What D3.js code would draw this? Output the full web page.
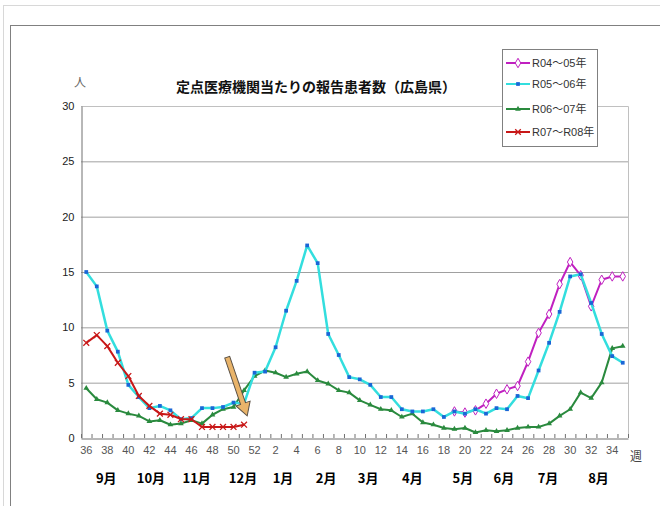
<!DOCTYPE html>
<html>
<head>
<meta charset="utf-8">
<script src="https://cdn.jsdelivr.net/npm/d3@7"></script>
<style>
  body { margin: 0; background: #fff; }
  svg { display: block; font-family: "Liberation Sans", Arial, "Noto Sans CJK JP", sans-serif; }
</style>
</head>
<body>
<div id="chart"></div>
<script>
// weeks 36..52, then 1..35
const weeks = d3.range(36, 53).concat(d3.range(1, 36)).map(String);

const r04 = [
  null, null, null, null, null, null, null, null, null, null, null, null, null, null, null, null, null,
  null, null, null, null, null, null, null, null, null, null, null, null, null, null, null, null, null, null,
  2.4, 2.3, 2.5, 3.1, 4.0, 4.4, 4.7, 6.9, 9.5, 11.2, 13.9, 15.9, 14.7, 11.9, 14.3, 14.6, 14.6
];
const r05 = [
  15.0, 13.7, 9.7, 7.8, 4.8, 3.7, 2.7, 2.9, 2.5, 1.7, 1.8, 2.7, 2.7, 2.8, 3.2, 3.1, 5.9,
  6.0, 8.2, 11.5, 14.2, 17.4, 15.8, 9.4, 7.5, 5.5, 5.3, 4.8, 3.7, 3.7, 2.6, 2.4, 2.4, 2.6, 1.9,
  2.4, 2.2, 2.6, 2.2, 2.7, 2.6, 3.8, 3.6, 6.1, 8.6, 11.4, 14.6, 14.8, 12.2, 9.4, 7.4, 6.8
];
const r06 = [
  4.5, 3.5, 3.2, 2.5, 2.2, 2.0, 1.5, 1.6, 1.2, 1.3, 1.6, 1.3, 2.1, 2.6, 2.8, 4.3, 5.6,
  6.1, 5.9, 5.5, 5.8, 6.0, 5.2, 4.9, 4.3, 4.1, 3.4, 3.0, 2.6, 2.5, 1.9, 2.2, 1.4, 1.2, 0.9,
  0.8, 0.9, 0.5, 0.7, 0.6, 0.7, 0.9, 1.0, 1.0, 1.3, 2.0, 2.6, 4.1, 3.6, 5.0, 8.1, 8.3
];
const r07 = [
  8.6, 9.3, 8.3, 6.8, 5.6, 3.8, 2.9, 2.2, 2.1, 1.7, 1.7, 1.0, 1.0, 1.0, 1.0, 1.2, null,
  null, null, null, null, null, null, null, null, null, null, null, null, null, null, null, null, null, null,
  null, null, null, null, null, null, null, null, null, null, null, null, null, null, null, null, null
];

const seriesNames = ["R04～05年", "R05～06年", "R06～07年", "R07～R08年"];
const yTicks = [0, 5, 10, 15, 20, 25, 30];
const months = [
  { label: "9月", at: 37.9 }, { label: "10月", at: 42.15 }, { label: "11月", at: 46.5 },
  { label: "12月", at: 50.9 }, { label: "1月", at: 2.7 }, { label: "2月", at: 6.8 },
  { label: "3月", at: 10.8 }, { label: "4月", at: 15.0 }, { label: "5月", at: 19.8 },
  { label: "6月", at: 23.7 }, { label: "7月", at: 27.9 }, { label: "8月", at: 32.7 }
];

const width = 660;
const height = 506;
const marginLeft = 81;
const plotRight = 628;
const plotTop = 106;
const plotBottom = 438;

const svg = d3.select("#chart")
  .append("svg")
  .attr("width", width)
  .attr("height", height)
  .attr("viewBox", [0, 0, width, height]);

// outer frames
svg.append("rect")
  .attr("x", 3.5).attr("y", 5.5).attr("width", 700).attr("height", 600)
  .attr("fill", "none").attr("stroke", "#d8d8d8");
svg.append("rect")
  .attr("x", 10.5).attr("y", 25.5).attr("width", 700).attr("height", 600)
  .attr("fill", "none").attr("stroke", "#808080");

const x = d3.scaleBand()
  .domain(weeks)
  .range([marginLeft, plotRight]);

const y = d3.scaleLinear()
  .domain([0, 30])
  .range([plotBottom, plotTop]);

const cx = (i) => x(weeks[i]) + x.bandwidth() / 2;
// position from a fractional week index (for month labels and the arrow)
const xf = (i) => x.range()[0] + x.step() * (i + 0.5);
const weekIndex = (w) => weeks.indexOf(String(w));

// gridlines
svg.append("g")
  .selectAll("line")
  .data(yTicks.filter(d => d > 0 && d < 30))
  .join("line")
  .attr("x1", marginLeft).attr("x2", plotRight)
  .attr("y1", d => y(d) + 0.5).attr("y2", d => y(d) + 0.5)
  .attr("stroke", "#a0a0a0");

// plot border (top/right light)
svg.append("path")
  .attr("d", `M${marginLeft},${plotTop + 0.5}H${plotRight + 0.5}V${plotBottom}`)
  .attr("fill", "none")
  .attr("stroke", "#c0c0c0");

// y axis
svg.append("g")
  .attr("transform", `translate(${marginLeft + 0.5},0)`)
  .call(d3.axisLeft(y).tickValues(yTicks).tickSize(0).tickPadding(7))
  .call(g => g.select(".domain").attr("stroke", "#707070"))
  .call(g => g.selectAll("text").attr("font-size", 11).attr("fill", "#222"));

// x axis
svg.append("g")
  .attr("transform", `translate(0,${plotBottom + 0.5})`)
  .call(d3.axisBottom(x)
    .tickValues(weeks.filter((d, i) => i % 2 === 0))
    .tickSize(0).tickPadding(8))
  .call(g => g.select(".domain").attr("stroke", "#707070"))
  .call(g => g.selectAll("text").attr("font-size", 11).attr("fill", "#555"));

// small tick marks between categories, pointing up
svg.append("g")
  .selectAll("line")
  .data(d3.range(weeks.length + 1))
  .join("line")
  .attr("x1", i => x.range()[0] + x.step() * i + 0.5)
  .attr("x2", i => x.range()[0] + x.step() * i + 0.5)
  .attr("y1", plotBottom)
  .attr("y2", plotBottom - 4)
  .attr("stroke", "#707070");

// unit labels
svg.append("text")
  .attr("x", 80).attr("y", 87)
  .attr("text-anchor", "middle")
  .attr("font-size", 12).attr("fill", "#666")
  .attr("font-family", "Noto Sans CJK JP")
  .text("人");

svg.append("text")
  .attr("x", 636).attr("y", 461)
  .attr("text-anchor", "middle")
  .attr("font-size", 12).attr("fill", "#444")
  .attr("font-family", "Noto Sans CJK JP")
  .text("週");

// title
svg.append("text")
  .attr("x", 316).attr("y", 92)
  .attr("text-anchor", "middle")
  .attr("font-size", 14).attr("font-weight", "bold")
  .attr("font-family", "Noto Sans CJK JP")
  .attr("fill", "#111")
  .text("定点医療機関当たりの報告患者数（広島県）");

// month labels
svg.append("g")
  .selectAll("text")
  .data(months)
  .join("text")
  .attr("x", d => xf(weekIndex(Math.floor(d.at)) + (d.at % 1)))
  .attr("y", 483)
  .attr("text-anchor", "middle")
  .attr("font-size", 13).attr("font-weight", "bold")
  .attr("font-family", "Noto Sans CJK JP")
  .attr("fill", "#000")
  .text(d => d.label);

// series
const styles = [
  { values: r04, color: "#c020c0", marker: "diamond" },
  { values: r05, color: "#33dede", marker: "square" },
  { values: r06, color: "#2a8a3e", marker: "triangle" },
  { values: r07, color: "#c81818", marker: "times" }
];

const line = d3.line()
  .defined(d => d != null)
  .x((d, i) => cx(i))
  .y(d => y(d));

function drawMarkers(g, s) {
  const pts = s.values.map((v, i) => ({ v, i })).filter(d => d.v != null);
  const sel = g.selectAll("path.m")
    .data(pts)
    .join("path")
    .attr("class", "m")
    .attr("transform", d => `translate(${cx(d.i)},${y(d.v)})`);
  if (s.marker === "diamond") {
    sel.attr("d", d3.symbol(d3.symbolDiamond, 26)).attr("fill", "#fff").attr("stroke", s.color).attr("stroke-width", 1);
  } else if (s.marker === "square") {
    sel.attr("d", d3.symbol(d3.symbolSquare, 14)).attr("fill", "#1a66d6").attr("stroke", "none");
  } else if (s.marker === "triangle") {
    sel.attr("d", d3.symbol(d3.symbolTriangle, 14)).attr("fill", s.color);
  } else {
    sel.attr("d", d3.symbol(d3.symbolTimes, 24)).attr("fill", "none").attr("stroke", s.color).attr("stroke-width", 1.3);
  }
}

// draw older series first so the current season stays on top
[2, 0, 1, 3].forEach(k => {
  const s = styles[k];
  const g = svg.append("g");
  g.append("path")
    .datum(s.values)
    .attr("d", line)
    .attr("fill", "none")
    .attr("stroke", s.color)
    .attr("stroke-width", k === 1 ? 2.5 : 2)
    .attr("stroke-linejoin", "round");
  drawMarkers(g, s);
});

// annotation arrow pointing at the latest week
(function () {
  const x0 = xf(weekIndex(49) + 0.4), y0 = y(7.3);
  const x1 = xf(weekIndex(51) + 0.3), y1 = y(2.0);
  const ang = Math.atan2(y1 - y0, x1 - x0);
  const len = Math.hypot(x1 - x0, y1 - y0);
  const sw = 2.6, hw = 7.5, hl = 13;
  const pts = [[0, -sw], [len - hl, -sw], [len - hl, -hw], [len, 0], [len - hl, hw], [len - hl, sw], [0, sw]];
  svg.append("path")
    .attr("d", "M" + pts.map(p => p.join(",")).join("L") + "Z")
    .attr("transform", `translate(${x0},${y0}) rotate(${ang * 180 / Math.PI})`)
    .attr("fill", "#e9b46a")
    .attr("stroke", "#5a5045")
    .attr("stroke-width", 1);
})();

// legend
const legend = svg.append("g").attr("transform", "translate(502,49)");
legend.append("rect")
  .attr("x", 0.5).attr("y", 0.5).attr("width", 95).attr("height", 97)
  .attr("fill", "#fff").attr("stroke", "#808080");

const legendY = [14, 35, 60, 83];
styles.forEach((s, k) => {
  const g = legend.append("g").attr("transform", `translate(0,${legendY[k]})`);
  g.append("line")
    .attr("x1", 4).attr("x2", 28)
    .attr("stroke", s.color).attr("stroke-width", 2);
  const m = g.append("path").attr("transform", "translate(16,0)");
  if (s.marker === "diamond") m.attr("d", d3.symbol(d3.symbolDiamond, 26)).attr("fill", "#fff").attr("stroke", s.color);
  else if (s.marker === "square") m.attr("d", d3.symbol(d3.symbolSquare, 14)).attr("fill", "#1a66d6");
  else if (s.marker === "triangle") m.attr("d", d3.symbol(d3.symbolTriangle, 14)).attr("fill", s.color);
  else m.attr("d", d3.symbol(d3.symbolTimes, 22)).attr("fill", "none").attr("stroke", s.color).attr("stroke-width", 1.3);
  g.append("text")
    .attr("x", 30).attr("y", 4)
    .attr("font-size", 11)
    .attr("fill", "#333")
    .attr("font-family", "Liberation Sans, Noto Sans CJK JP")
    .text(seriesNames[k]);
});
</script>
</body>
</html>
